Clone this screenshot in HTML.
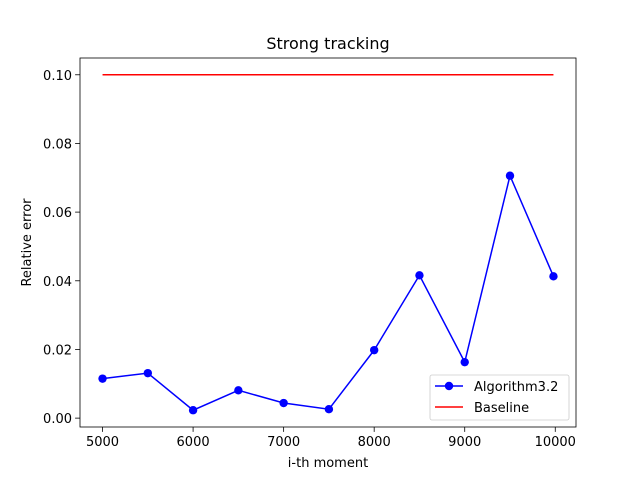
<!DOCTYPE html>
<html><head><meta charset="utf-8"><style>
body{margin:0;background:#fff;}
svg text{font-family:"DejaVu Sans","Liberation Sans",sans-serif;fill:#000;}
</style></head><body>
<svg id="chart" width="640" height="480" xmlns="http://www.w3.org/2000/svg">
<rect width="640" height="480" fill="#fff"/>
<g id="plot"></g>
</svg>
<script>
const xValues=[5000,5500,6000,6500,7000,7500,8000,8500,9000,9500,9980];
const algValues=[0.0115,0.0131,0.0023,0.0081,0.0044,0.0026,0.0198,0.0416,0.0163,0.0706,0.0413];
const baselineValue=0.1;
const xTicks=[5000,6000,7000,8000,9000,10000];
const yTicks=[0,0.02,0.04,0.06,0.08,0.10];
const yTickLabels=["0.00","0.02","0.04","0.06","0.08","0.10"];

const L=80,R=576,T=58,B=427;
const NS="http://www.w3.org/2000/svg";
const g=document.getElementById('plot');
const xmin=Math.min(...xValues),xmax=Math.max(...xValues);
const xm=(xmax-xmin)*0.05;
const allY=algValues.concat([baselineValue]);
const ymin=Math.min(...allY),ymax=Math.max(...allY);
const ym=(ymax-ymin)*0.05;
const X=v=>L+(v-(xmin-xm))/((xmax+xm)-(xmin-xm))*(R-L);
const Y=v=>B-(v-(ymin-ym))/((ymax+ym)-(ymin-ym))*(B-T);
function el(t,a,txt){const e=document.createElementNS(NS,t);for(const k in a)e.setAttribute(k,a[k]);if(txt!==undefined)e.textContent=txt;g.appendChild(e);return e;}

xTicks.forEach(v=>{
const x=X(v);
const tk=el('line',{x1:x,x2:x,y1:B,y2:B+4.9,stroke:'#000','stroke-width':0.8});


const t=el('text',{x:x,y:B+19,'text-anchor':'middle','font-size':13},String(v));


});
yTicks.forEach((v,i)=>{
const y=Y(v);
const tk=el('line',{x1:L-4.9,x2:L,y1:y,y2:y,stroke:'#000','stroke-width':0.8});


const t=el('text',{x:L-8,y:y+5,'text-anchor':'end','font-size':13},yTickLabels[i]);


});

const base=el('line',{x1:X(xValues[0]),x2:X(xValues[xValues.length-1]),y1:Y(baselineValue),y2:Y(baselineValue),stroke:'#ff0000','stroke-width':1.5});



const pl=el('polyline',{points:xValues.map((x,i)=>X(x)+','+Y(algValues[i])).join(' '),fill:'none',stroke:'#0000ff','stroke-width':1.5});


xValues.forEach((x,i)=>{
const c=el('circle',{cx:X(x),cy:Y(algValues[i]),r:4.2,fill:'#0000ff'});


});

const fr=el('rect',{x:L,y:T,width:R-L,height:B-T,fill:'none',stroke:'#000','stroke-width':0.8});



const title=el('text',{x:(L+R)/2,y:49,'text-anchor':'middle','font-size':16},'Strong tracking');


const xl=el('text',{x:(L+R)/2,y:467,'text-anchor':'middle','font-size':13},'i-th moment');


const yl=el('text',{x:0,y:0,'text-anchor':'middle','font-size':13,transform:'translate(31,'+((T+B)/2)+') rotate(-90)'},'Relative error');



const lg=el('rect',{x:430,y:375,width:139,height:45,rx:2,fill:'#fff','fill-opacity':0.8,stroke:'#ccc','stroke-width':0.8});


const l1=el('line',{x1:435,x2:463,y1:386,y2:386,stroke:'#0000ff','stroke-width':1.5});


const l1c=el('circle',{cx:449,cy:386,r:4.2,fill:'#0000ff'});


const t1=el('text',{x:474,y:391,'font-size':13},'Algorithm3.2');


const l2=el('line',{x1:435,x2:463,y1:407,y2:407,stroke:'#ff0000','stroke-width':1.5});


const t2=el('text',{x:474,y:412,'font-size':13},'Baseline');


</script>
</body></html>
